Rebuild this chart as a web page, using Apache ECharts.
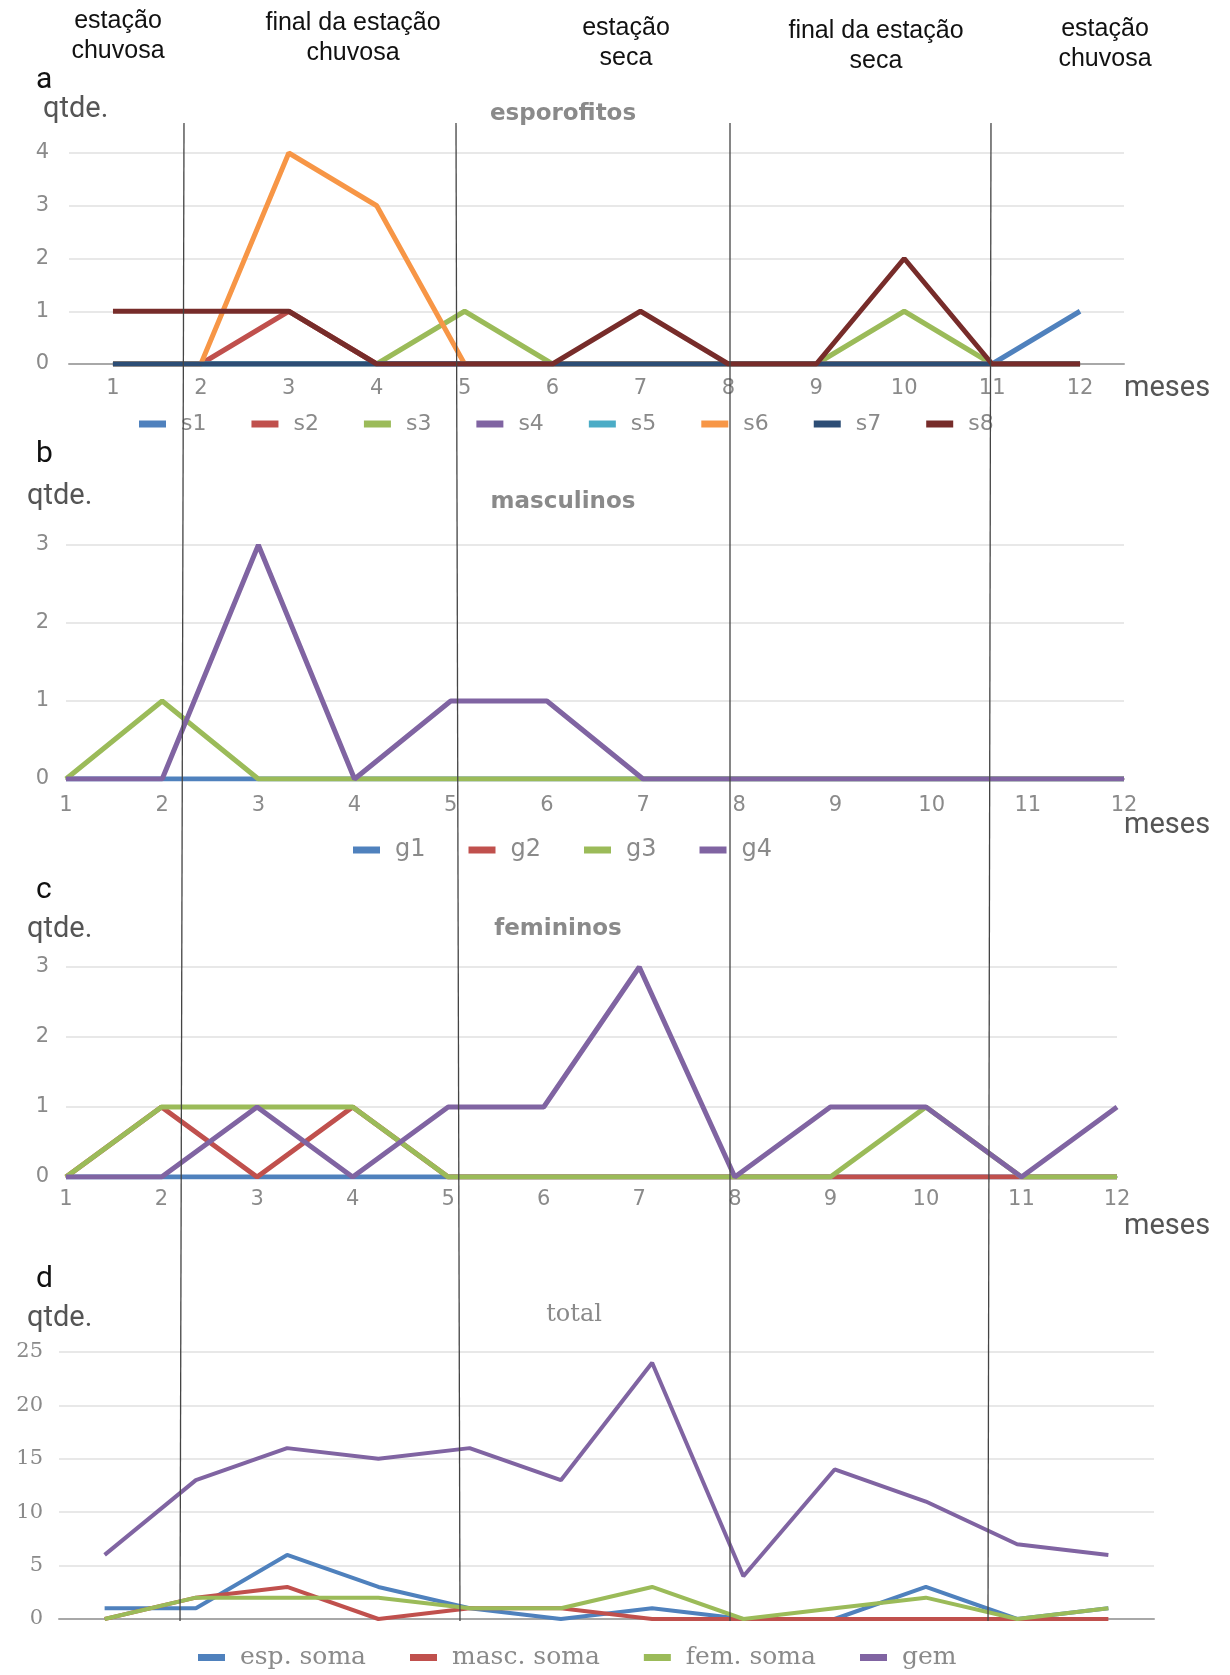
<!DOCTYPE html>
<html lang="pt">
<head>
<meta charset="UTF-8">
<title>esporofitos, masculinos, femininos, total</title>
<script src="https://cdn.jsdelivr.net/npm/echarts@6/dist/echarts.min.js"></script>
<style>
  body { margin: 0; background: #fff; }
  #chart_div { width: 1230px; height: 1675px; }
</style>
</head>
<body>
<div id="chart_div"></div>
<script type="text/javascript">

// meses (eixo x)
var meses = ['1', '2', '3', '4', '5', '6', '7', '8', '9', '10', '11', '12'];

// a - esporofitos
var s1 = [0, 0, 0, 0, 0, 0, 0, 0, 0, 0, 0, 1];
var s2 = [0, 0, 1, 0, 0, 0, 0, 0, 0, 0, 0, 0];
var s3 = [0, 0, 0, 0, 1, 0, 0, 0, 0, 1, 0, 0];
var s4 = [0, 0, 0, 0, 0, 0, 0, 0, 0, 0, 0, 0];
var s5 = [0, 0, 0, 0, 0, 0, 0, 0, 0, 0, 0, 0];
var s6 = [0, 0, 4, 3, 0, 0, 0, 0, 0, 0, 0, 0];
var s7 = [0, 0, 0, 0, 0, 0, 0, 0, 0, 0, 0, 0];
var s8 = [1, 1, 1, 0, 0, 0, 1, 0, 0, 2, 0, 0];

// b - masculinos (g2 nao aparece no grafico)
var mascG1 = [0, 0, 0, 0, 0, 0, 0, 0, 0, 0, 0, 0];
var mascG2 = [null, null, null, null, null, null, null, null, null, null, null, null];
var mascG3 = [0, 1, 0, 0, 0, 0, 0, 0, 0, 0, 0, 0];
var mascG4 = [0, 0, 3, 0, 1, 1, 0, 0, 0, 0, 0, 0];

// c - femininos
var femG1 = [0, 0, 0, 0, 0, 0, 0, 0, 0, 0, 0, 0];
var femG2 = [0, 1, 0, 1, 0, 0, 0, 0, 0, 0, 0, 0];
var femG3 = [0, 1, 1, 1, 0, 0, 0, 0, 0, 1, 0, 0];
var femG4 = [0, 0, 1, 0, 1, 1, 3, 0, 1, 1, 0, 1];

// d - total
var espSoma  = [1, 1, 6, 3, 1, 0, 1, 0, 0, 3, 0, 1];
var mascSoma = [0, 2, 3, 0, 1, 1, 0, 0, 0, 0, 0, 0];
var femSoma  = [0, 2, 2, 2, 1, 1, 3, 0, 1, 2, 0, 1];
var gem      = [6, 13, 16, 15, 16, 13, 24, 4, 14, 11, 7, 6];

var estacoes = ['estação\nchuvosa', 'final da estação\nchuvosa', 'estação\nseca', 'final da estação\nseca', 'estação\nchuvosa'];

var cores = ['#4F81BD', '#C0504D', '#9BBB59', '#8064A2', '#4BACC6', '#F79646', '#2C4D75', '#772C2A'];

var sans = 'DejaVu Sans';
var serif = 'DejaVu Serif';

function linha(name, data, cor, idx, w) {
    return {
        name: name, type: 'line', data: data,
        xAxisIndex: idx, yAxisIndex: idx,
        symbol: 'none', silent: true,
        lineStyle: {color: cor, width: w || 5},
        itemStyle: {color: cor}
    };
}

function eixoX(idx, gap, margin, show, font) {
    return {
        gridIndex: idx, type: 'category', data: meses, boundaryGap: gap,
        axisTick: {show: false},
        axisLine: {show: true, lineStyle: {color: '#a8a8a8', width: 2}},
        axisLabel: {show: show, color: '#8a8a8a', fontSize: 21, fontFamily: font, margin: margin}
    };
}

function eixoY(idx, max, interval, margin, font, size) {
    return {
        gridIndex: idx, type: 'value', min: 0, max: max, interval: interval,
        axisLine: {show: false}, axisTick: {show: false},
        axisLabel: {color: '#8a8a8a', fontSize: size, fontFamily: font, margin: margin},
        splitLine: {lineStyle: {color: '#e8e8e8', width: 2}}
    };
}

function legenda(names, left, top, font, size, gap) {
    return {
        data: names, left: left, top: top, icon: 'rect',
        itemWidth: 27, itemHeight: 7, itemGap: gap, padding: 0,
        selectedMode: false,
        textStyle: {color: '#8a8a8a', fontSize: size, fontFamily: font, padding: [0, 0, 0, 10]}
    };
}

var graphics = [];
var estX = [118, 353, 626, 876, 1105];
var estY = [36, 38, 43, 46, 44];
for (var i = 0; i < estacoes.length; i++) {
    graphics.push({
        type: 'text', x: estX[i], y: estY[i], z: 100,
        style: {text: estacoes[i], fill: '#111', font: '25px "Liberation Sans"',
                textAlign: 'center', textVerticalAlign: 'middle', lineHeight: 30}
    });
}
var letras = [['a', 80], ['b', 454], ['c', 890], ['d', 1279]];
letras.forEach(function (l) {
    graphics.push({type: 'text', x: 36, y: l[1], z: 100,
        style: {text: l[0], fill: '#111', font: '30px Roboto', textVerticalAlign: 'middle'}});
});
var qtdes = [[43, 110], [27, 497], [27, 930], [27, 1319]];
qtdes.forEach(function (q) {
    graphics.push({type: 'text', x: q[0], y: q[1], z: 100,
        style: {text: 'qtde.', fill: '#555', font: '29px Roboto', textVerticalAlign: 'middle'}});
});
[389, 826, 1227].forEach(function (y) {
    graphics.push({type: 'text', x: 1124, y: y, z: 100,
        style: {text: 'meses', fill: '#555', font: '29px Roboto', textVerticalAlign: 'middle'}});
});
// divisões das estações
var divisoes = [[184, 180], [456, 460], [730, 730], [991, 988]];
divisoes.forEach(function (d) {
    graphics.push({type: 'line', z: 100, silent: true,
        shape: {x1: d[0], y1: 123, x2: d[1], y2: 1621},
        style: {stroke: '#444', lineWidth: 1.3}});
});

function titulo(text, x, y, font, size, weight) {
    return {text: text, left: x, top: y - size / 2, textAlign: 'center', padding: 0,
            textStyle: {color: '#8a8a8a', fontSize: size, fontWeight: weight, fontFamily: font}};
}

var chart = echarts.init(document.getElementById('chart_div'));
var options = {
    backgroundColor: '#fff',
    animation: false,
    title: [
        titulo('esporofitos', 563, 114, sans, 23, 'bold'),
        titulo('masculinos', 563, 502, sans, 23, 'bold'),
        titulo('femininos', 558, 929, sans, 23, 'bold'),
        titulo('total', 574, 1315, serif, 24, 'normal')
    ],
    legend: [
        legenda(['s1', 's2', 's3', 's4', 's5', 's6', 's7', 's8'], 139, 413, sans, 22, 45),
        legenda(['g1', 'g2', 'g3', 'g4'], 353, 838, sans, 24, 43),
        legenda(['esp. soma', 'masc. soma', 'fem. soma', 'gem'], 198, 1645, serif, 25, 44)
    ],
    grid: [
        {left: 69, top: 153, width: 1055, height: 211},
        {left: 66, top: 545, width: 1058, height: 234},
        {left: 66, top: 967, width: 1051, height: 210},
        {left: 59, top: 1352, width: 1095, height: 267}
    ],
    xAxis: [
        eixoX(0, true, 14, true, sans),
        eixoX(1, false, 16, true, sans),
        eixoX(2, false, 12, true, sans),
        eixoX(3, true, 15, false, serif)
    ],
    yAxis: [
        eixoY(0, 4, 1, 20, sans, 21),
        eixoY(1, 3, 1, 17, sans, 21),
        eixoY(2, 3, 1, 17, sans, 21),
        eixoY(3, 25, 5, 16, serif, 21)
    ],
    series: [
        linha('s1', s1, cores[0], 0),
        linha('s2', s2, cores[1], 0),
        linha('s3', s3, cores[2], 0),
        linha('s4', s4, cores[3], 0),
        linha('s5', s5, cores[4], 0),
        linha('s6', s6, cores[5], 0),
        linha('s7', s7, cores[6], 0),
        linha('s8', s8, cores[7], 0),

        linha('g1', mascG1, cores[0], 1),
        linha('g2', mascG2, cores[1], 1),
        linha('g3', mascG3, cores[2], 1),
        linha('g4', mascG4, cores[3], 1),

        linha('g1', femG1, cores[0], 2),
        linha('g2', femG2, cores[1], 2),
        linha('g3', femG3, cores[2], 2),
        linha('g4', femG4, cores[3], 2),

        linha('esp. soma', espSoma, cores[0], 3, 4),
        linha('masc. soma', mascSoma, cores[1], 3, 4),
        linha('fem. soma', femSoma, cores[2], 3, 4),
        linha('gem', gem, cores[3], 3, 4)
    ],
    graphic: graphics
};
chart.setOption(options);

</script>
</body>
</html>
